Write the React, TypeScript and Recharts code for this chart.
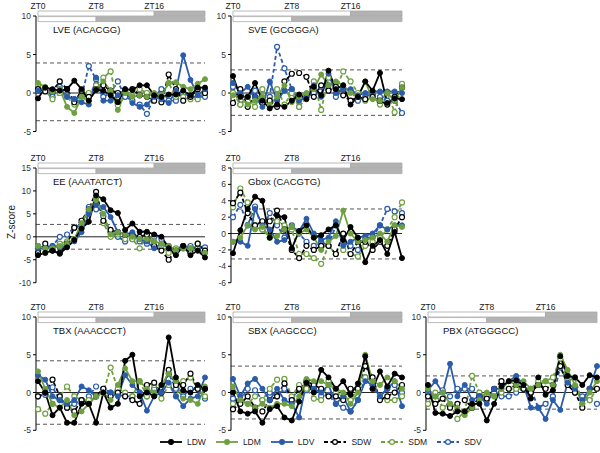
import React from "react"
import { LineChart, Line, XAxis, YAxis, ReferenceLine, ReferenceArea } from "recharts"

// hours ZT0..ZT23
const HOURS = [0, 1, 2, 3, 4, 5, 6, 7, 8, 9, 10, 11, 12, 13, 14, 15, 16, 17, 18, 19, 20, 21, 22, 23]
const ZT_TICKS = [0, 8, 16]

// light / dark schedule bars (long day on top, short day below)
const LONG_DAY = [
  { from: 0, to: 16, dark: false },
  { from: 16, to: 23, dark: true },
]
const SHORT_DAY = [
  { from: 0, to: 8, dark: false },
  { from: 8, to: 23, dark: true },
]

// LVE (ACACGG)
const LVE_LDW = [-0.7, 0.7, 0.5, 0.3, 0.5, 1.6, 0.5, -1.0, 0.4, 0.3, -0.3, -1.2, 0.5, 0.4, 1.0, 1.0, -0.3, -0.5, -0.2, -0.2, 0.3, -0.3, 0.7, 0.7]
const LVE_LDM = [1.3, 0.8, 0.2, 0.5, -1.8, -2.6, -0.5, -1.0, 0.5, 1.5, 0.3, -2.2, 0.0, -0.5, -0.3, -0.5, 0.0, -0.3, 1.3, 1.4, 0.8, 0.5, 1.2, 1.8]
const LVE_LDV = [0.3, 0.7, 0.2, 0.5, -0.5, -0.8, -1.2, -1.5, 2.0, -1.0, -1.0, -0.3, 0.5, -1.3, -1.8, -1.5, -0.5, -0.8, -1.3, 0.3, 4.9, 1.7, -0.3, 0.5]
const LVE_SDW = [0.5, 0.2, 0.3, 1.5, 0.5, -1.2, 0.3, -0.5, 0.5, 1.0, 0.3, 0.0, 0.3, 0.5, -0.3, -0.5, -1.0, -1.2, 2.4, 0.5, -1.0, -0.5, 0.5, 0.0]
const LVE_SDM = [1.0, 0.3, -0.8, 0.0, -0.5, -1.5, -0.8, 0.0, 1.0, 2.0, 2.8, -1.6, 0.3, -0.3, 0.5, 0.0, -0.5, -0.5, 1.3, -0.5, -0.5, -0.8, -0.8, 0.2]
const LVE_SDV = [0.3, 0.5, -0.5, 0.8, -0.3, -0.8, -0.5, 3.5, 1.8, -0.5, 0.0, 1.5, -0.5, -1.0, -1.5, -2.7, -0.5, 0.5, -1.0, -1.0, 0.0, -0.5, -0.5, -0.5]

// SVE (GCGGGA)
const SVE_LDW = [2.2, -0.5, -0.5, 1.3, -1.0, -2.0, -1.5, -1.8, -1.0, -0.2, -0.8, 0.8, -0.3, 2.9, 0.5, 1.0, -1.5, -0.5, 1.5, 0.3, 2.6, -1.3, -0.7, -0.8]
const SVE_LDM = [-0.3, -0.5, -1.5, -1.0, -0.5, -1.5, -0.5, 1.0, -1.2, -0.5, 0.0, 0.5, 2.4, 1.0, 1.5, 1.0, 0.0, -0.5, 1.5, -0.8, -1.0, 0.0, -1.0, 0.7]
const SVE_LDV = [1.3, 0.0, 0.8, -0.5, -1.8, 1.5, -1.0, 0.3, 0.5, -1.0, -0.5, 1.0, -0.5, 2.5, 0.0, 0.5, 0.5, -0.3, 0.0, 0.2, 0.2, 0.2, 0.2, 0.0]
const SVE_SDW = [-1.3, 0.5, -1.8, -0.5, -1.3, -1.0, -1.8, 1.5, 2.5, 2.6, 2.1, -0.5, 1.0, 0.3, 0.8, -0.3, -1.0, -0.5, -0.8, -0.5, -1.0, -1.5, -0.5, 0.7]
const SVE_SDM = [0.0, -1.5, -0.5, -1.8, 0.5, -1.0, 0.5, -1.5, 0.0, -1.8, -0.5, 1.5, -2.2, 2.0, 0.5, 2.8, 1.5, 0.0, -1.0, -0.5, -1.5, 0.0, -2.5, 1.2]
const SVE_SDV = [0.8, -1.5, -0.5, 0.3, -1.0, -0.5, 6.0, 3.2, 0.5, -1.8, -0.5, 0.0, 0.8, 1.0, -0.5, 0.5, 0.3, -1.0, -0.5, 0.0, -0.5, -1.0, -1.0, -2.6]

// EE (AAATATCT)
const EE_LDW = [-4.0, -3.5, -3.0, -3.7, -2.3, -0.7, 1.8, 3.3, 9.0, 8.2, 5.8, 5.2, 1.5, 2.9, 1.1, 1.1, 0.5, 0.0, -2.5, -4.0, -2.0, -4.0, -3.0, -4.5]
const EE_LDM = [-2.0, -2.5, -2.5, -2.0, -1.5, -0.5, 3.0, 6.0, 8.0, 5.0, 0.5, 1.0, 0.5, 0.0, -0.5, -0.5, -1.0, -1.5, -2.0, -3.0, -2.5, -2.5, -3.0, -3.5]
const EE_LDV = [-2.5, -2.5, -2.0, -2.3, -2.0, -1.0, 1.0, 5.0, 7.0, 6.5, 4.3, 1.0, 0.5, 1.0, -0.5, -1.0, -2.5, -1.5, -2.5, -3.0, -2.0, -2.5, -3.0, -3.5]
const EE_SDW = [-3.5, -1.5, -3.0, -3.5, -1.5, 2.0, 3.5, 6.0, 9.8, 3.5, 1.5, 1.0, 0.5, 0.5, 0.0, 0.5, -2.0, -3.0, -5.0, -3.0, -2.0, -3.5, -1.5, -3.0]
const EE_SDM = [-2.5, -3.5, -2.5, -1.5, -1.0, -0.5, 2.0, 5.5, 8.5, 3.0, 0.0, 0.5, -0.5, -0.5, -2.5, 0.5, -1.0, -2.0, -3.5, -2.5, -2.0, -3.5, -1.5, -3.0]
const EE_SDV = [-2.0, -2.5, -2.0, 0.0, 0.5, 2.0, 2.5, 6.5, 6.0, 4.5, 1.0, 0.0, -1.0, -0.5, -1.0, -1.5, 0.0, -0.5, -2.0, -3.0, -2.5, -2.0, -2.5, -2.3]

// Gbox (CACGTG)
const GBOX_LDW = [-2.4, 0.4, 3.0, 4.5, 4.0, -0.5, 2.2, 2.0, -1.8, 0.3, 1.0, -0.5, -0.2, 0.5, 1.0, -0.8, 0.8, -0.5, -3.5, -1.5, -0.8, -2.5, 0.2, -3.0]
const GBOX_LDM = [-1.0, -0.5, 1.0, 0.5, 0.8, -0.5, -0.3, 0.5, 0.8, 0.0, 0.5, -0.5, -2.0, -1.0, -0.3, 2.8, 0.0, -1.0, -0.8, -0.5, 0.0, -1.0, 1.0, 0.8]
const GBOX_LDV = [-1.0, -1.0, -1.5, 3.0, 1.0, 0.5, -1.0, -0.8, 0.8, 0.3, 1.8, 0.0, -0.8, -0.5, 1.5, -1.5, -1.0, -0.5, -0.3, 0.0, 1.0, 0.5, 1.0, 1.0]
const GBOX_SDW = [3.7, 5.0, 2.5, 1.0, 1.5, 1.5, 2.8, 0.5, -2.0, -3.0, -1.5, -2.0, -1.5, -1.5, -2.5, 0.0, -2.5, -1.0, -1.0, -2.0, -1.0, -1.5, 0.5, 2.0]
const GBOX_SDM = [3.2, 5.5, 3.8, 1.0, 0.5, -0.5, 1.5, 1.0, 0.5, -2.5, -2.5, -3.0, -3.7, -1.5, -2.5, -2.0, -2.5, -2.8, -1.5, -1.0, -0.5, 0.5, 2.0, 3.8]
const GBOX_SDV = [2.0, 3.5, 1.0, 3.3, 0.5, 2.5, 1.0, -0.5, 1.0, 0.0, -1.0, -1.5, -1.0, -1.5, 1.0, -1.0, -1.5, -2.0, -0.5, -0.5, 1.0, 3.0, 2.7, 2.5]

// TBX (AAACCCT)
const TBX_LDW = [1.5, 0.0, -3.0, -2.0, -4.0, -4.0, -1.5, -1.5, -4.0, 0.0, -2.0, -1.5, 4.2, 5.0, -0.5, 0.0, -0.5, 1.0, 7.3, 2.0, 0.3, 0.0, 1.0, 0.5]
const TBX_LDM = [2.8, 0.5, -1.5, -2.0, -1.0, -3.0, -2.5, -1.5, -0.5, 0.0, -1.0, 1.0, 3.2, 1.5, 1.5, 0.5, 0.0, 1.0, 2.5, 1.5, -0.8, -1.0, -1.5, 0.8]
const TBX_LDV = [2.3, 1.7, -0.5, -1.0, -1.5, -1.0, 0.8, 0.3, -0.5, 0.0, 0.0, -0.5, 2.3, 1.0, 0.0, -2.4, -0.5, 0.0, 1.3, -0.5, -1.8, -0.8, -0.5, 2.0]
const TBX_SDW = [-0.5, 0.0, 1.7, -0.5, -2.0, -2.5, -1.0, -1.5, -0.5, 0.5, -0.5, 0.0, -0.5, -1.0, -1.5, 1.0, 1.3, 0.0, 3.0, 1.0, 1.0, 2.5, 0.5, 0.5]
const TBX_SDM = [-2.2, -2.8, -1.5, -0.5, 0.8, -0.5, -1.0, -1.0, -0.5, 0.0, 3.3, 0.5, 0.0, -0.5, 1.5, -0.5, 1.0, -0.8, 1.0, -0.5, 1.5, 2.0, 0.5, -0.5]
const TBX_SDV = [-0.5, -0.3, 0.7, -1.0, -2.0, -1.5, -1.0, -0.5, 0.8, 0.5, 0.0, -0.3, -0.5, -0.5, 0.0, -0.5, 0.5, 0.0, 2.5, 0.5, -0.5, 0.5, 0.5, -0.8]

// SBX (AAGCCC)
const SBX_LDW = [0.0, -2.5, -2.8, -2.5, -4.0, -2.2, -1.8, -3.3, -3.7, -1.2, 1.3, 0.0, 3.0, 2.0, 0.5, 1.5, -0.3, 1.2, 4.8, 0.5, 2.8, 0.8, 2.5, 2.0]
const SBX_LDM = [0.8, -1.0, -1.5, -2.0, -1.5, -2.0, -1.5, -1.5, -1.8, -0.5, 1.8, 1.5, 1.5, 1.0, 0.5, 0.0, -1.5, 0.0, 5.0, 1.5, 1.0, 2.0, 1.5, 0.5]
const SBX_LDV = [1.8, -0.5, 1.2, 1.8, 0.5, -1.0, 0.5, -1.0, -1.5, -3.3, 1.3, 0.5, 0.0, 1.0, -1.5, -0.5, -2.5, -1.0, 1.5, 1.0, -0.5, 0.5, 1.5, -1.8]
const SBX_SDW = [-2.2, -1.5, -0.5, -2.0, -2.5, -1.0, -0.5, 1.2, -1.0, 0.5, 1.5, 1.0, 0.5, -0.5, -0.5, -1.0, 0.5, 0.5, 3.5, 2.0, -1.0, -0.5, 0.0, 1.0]
const SBX_SDM = [-1.5, -1.0, -1.5, -0.5, -1.0, 0.5, 1.7, 1.8, -0.5, 1.0, 0.5, -0.8, -1.0, 1.5, 0.0, -0.5, -1.0, 0.5, 2.0, 1.5, -0.5, -1.0, -1.0, -0.5]
const SBX_SDV = [-0.8, -1.0, 0.5, 0.3, -1.0, 0.0, -0.5, 0.5, -0.8, 0.5, 0.3, 0.5, -0.5, -0.3, -1.5, -2.0, -2.5, -1.0, 2.0, 0.5, -0.5, 0.5, 1.0, 0.0]

// PBX (ATGGGCC)
const PBX_LDW = [1.0, -2.7, -2.8, -3.1, -2.5, -2.5, -1.5, -1.5, -3.7, -1.5, 0.8, 1.5, 1.6, 1.0, -0.8, 2.0, -0.3, 0.3, 4.8, 2.2, 2.0, 1.0, 2.3, 2.0]
const PBX_LDM = [0.5, -0.5, 0.0, -1.5, -2.0, -3.0, -2.0, -1.0, 0.0, -0.5, 0.5, 1.5, 1.0, 1.5, 0.5, 1.0, 1.5, 1.0, 5.0, 3.0, 1.0, -1.5, 0.0, 1.5]
const PBX_LDV = [0.3, 1.5, 0.0, 3.8, -0.5, 1.0, -1.0, -0.5, -1.5, 0.5, 0.5, 1.5, 2.2, 1.0, -2.0, -2.0, -3.5, -1.0, -2.3, 1.3, 0.5, -1.0, 0.5, 3.5]
const PBX_SDW = [-0.5, -1.5, -0.8, -2.0, -1.5, -1.0, -2.0, -0.5, -0.8, 0.5, 1.5, 0.5, 1.0, 0.5, 0.0, 1.0, 0.5, 1.0, 3.5, 1.0, 0.0, -2.0, 0.5, 0.5]
const PBX_SDM = [-1.5, 0.0, -2.0, -1.5, -3.5, -2.5, 2.2, 0.0, -0.5, -0.5, 0.0, 0.5, 0.5, 0.5, 0.5, 1.5, 1.5, 2.0, 4.5, 1.5, 2.0, -1.5, -1.0, 0.5]
const PBX_SDV = [0.0, -0.5, 0.3, -0.5, 0.5, 0.5, 0.5, -0.5, -1.0, 0.0, -0.5, -0.5, 0.0, 0.5, 0.5, -2.0, -1.5, -0.5, 3.3, 1.5, 0.0, -0.5, -1.0, -1.5]

const BLACK = "#000000"
const GREEN = "#6fa040"
const BLUE = "#2a5caa"

const SERIES = [
  { key: "LDW", color: BLACK, dashed: false },
  { key: "LDM", color: GREEN, dashed: false },
  { key: "LDV", color: BLUE, dashed: false },
  { key: "SDW", color: BLACK, dashed: true },
  { key: "SDM", color: GREEN, dashed: true },
  { key: "SDV", color: BLUE, dashed: true },
]

// layout of the 3x3 grid (only 7 panels used)
const COLS = [
  { axis: 36, right: 205 },
  { axis: 231, right: 402 },
  { axis: 426, right: 597 },
]
const ROWS = [
  { top: 16, bottom: 131.5 },
  { top: 168, bottom: 282.7 },
  { top: 316.7, bottom: 430 },
]
const Y_W = 30
const X_H = 16 // room for the ZT labels above each plot
const M_T = 8
const M_R = 4
const M_B = 4

const PANELS = [
  { title: "LVE (ACACGG)", col: 0, row: 0, domain: [-5, 10], ticks: [-5, 0, 5, 10], thr: [-3.6, 3.9],
    values: { LDW: LVE_LDW, LDM: LVE_LDM, LDV: LVE_LDV, SDW: LVE_SDW, SDM: LVE_SDM, SDV: LVE_SDV } },
  { title: "SVE (GCGGGA)", col: 1, row: 0, domain: [-5, 10], ticks: [-5, 0, 5, 10], thr: [-2.9, 3.0],
    values: { LDW: SVE_LDW, LDM: SVE_LDM, LDV: SVE_LDV, SDW: SVE_SDW, SDM: SVE_SDM, SDV: SVE_SDV } },
  { title: "EE (AAATATCT)", col: 0, row: 1, domain: [-10, 15], ticks: [-10, -5, 0, 5, 10, 15], thr: [-2.7, 2.7],
    values: { LDW: EE_LDW, LDM: EE_LDM, LDV: EE_LDV, SDW: EE_SDW, SDM: EE_SDM, SDV: EE_SDV } },
  { title: "Gbox (CACGTG)", col: 1, row: 1, domain: [-6, 8], ticks: [-6, -4, -2, 0, 2, 4, 6, 8], thr: [-3.1, 3.0],
    values: { LDW: GBOX_LDW, LDM: GBOX_LDM, LDV: GBOX_LDV, SDW: GBOX_SDW, SDM: GBOX_SDM, SDV: GBOX_SDV } },
  { title: "TBX (AAACCCT)", col: 0, row: 2, domain: [-5, 10], ticks: [-5, 0, 5, 10], thr: [-4.2, 4.2],
    values: { LDW: TBX_LDW, LDM: TBX_LDM, LDV: TBX_LDV, SDW: TBX_SDW, SDM: TBX_SDM, SDV: TBX_SDV } },
  { title: "SBX (AAGCCC)", col: 1, row: 2, domain: [-5, 10], ticks: [-5, 0, 5, 10], thr: [-3.5, 3.5],
    values: { LDW: SBX_LDW, LDM: SBX_LDM, LDV: SBX_LDV, SDW: SBX_SDW, SDM: SBX_SDM, SDV: SBX_SDV } },
  { title: "PBX (ATGGGCC)", col: 2, row: 2, domain: [-5, 10], ticks: [-5, 0, 5, 10], thr: [-2.2, 2.2],
    values: { LDW: PBX_LDW, LDM: PBX_LDM, LDV: PBX_LDV, SDW: PBX_SDW, SDM: PBX_SDM, SDV: PBX_SDV } },
]

function Panel({ panel }: { panel: any }) {
  const col = COLS[panel.col]
  const row = ROWS[panel.row]
  const plotW = col.right - col.axis
  const plotH = row.bottom - row.top
  const [min, max] = panel.domain
  const ppu = plotH / (max - min)
  const data = HOURS.map((h, i) => {
    const d: any = { h }
    SERIES.forEach((s) => (d[s.key] = panel.values[s.key][i]))
    return d
  })

  return (
    <>
      <div style={{ position: "absolute", left: col.axis - Y_W, top: row.top - M_T - X_H }}>
        <LineChart
          width={Y_W + plotW + M_R}
          height={M_T + X_H + plotH + M_B}
          data={data}
          margin={{ top: M_T, right: M_R, bottom: M_B, left: 0 }}
        >
          <XAxis
            dataKey="h"
            type="number"
            orientation="top"
            domain={[0, 23]}
            ticks={ZT_TICKS}
            tickFormatter={(v) => `ZT${v}`}
            height={X_H}
            axisLine={false}
            tickLine={false}
            tickSize={0}
            tickMargin={7}
            padding={{ left: 2, right: 0 }}
            interval={0}
            tick={{ fontSize: 8.5, fill: "#222" }}
          />
          <YAxis
            type="number"
            domain={panel.domain}
            ticks={panel.ticks}
            interval={0}
            width={Y_W}
            tickSize={3}
            tickMargin={2}
            axisLine={{ stroke: "#000" }}
            tickLine={{ stroke: "#000" }}
            tick={{ fontSize: 8.5, fill: "#333" }}
          />
          {LONG_DAY.map((b) => (
            <ReferenceArea
              key={`l${b.from}`}
              x1={b.from}
              x2={b.to}
              y1={max}
              y2={max + 5 / ppu}
              fill={b.dark ? "#b3b3b3" : "#ffffff"}
              fillOpacity={1}
              stroke="#a8a8a8"
              strokeWidth={0.8}
              ifOverflow="visible"
            />
          ))}
          {SHORT_DAY.map((b) => (
            <ReferenceArea
              key={`s${b.from}`}
              x1={b.from}
              x2={b.to}
              y1={max - 0.6 / ppu}
              y2={max - 5.6 / ppu}
              fill={b.dark ? "#b3b3b3" : "#ffffff"}
              fillOpacity={1}
              stroke="#a8a8a8"
              strokeWidth={0.8}
              ifOverflow="visible"
            />
          ))}
          <ReferenceLine y={0} stroke="#222" strokeWidth={1} />
          {panel.thr.map((t: number) => (
            <ReferenceLine key={t} y={t} stroke="#555" strokeWidth={1} strokeDasharray="4 3" />
          ))}
          {[...SERIES].reverse().map((s) => (
            <Line
              key={s.key}
              type="linear"
              dataKey={s.key}
              stroke={s.color}
              strokeWidth={1.8}
              strokeDasharray={s.dashed ? "4 2.5" : undefined}
              dot={{
                r: 2.5,
                fill: s.dashed ? "#fff" : s.color,
                stroke: s.color,
                strokeWidth: s.dashed ? 1.2 : 1,
                strokeDasharray: "none",
              }}
              activeDot={false}
              isAnimationActive={false}
            />
          ))}
        </LineChart>
      </div>
      <div
        style={{
          position: "absolute",
          left: col.axis + 17,
          top: row.top + 8,
          fontSize: 9.5,
          lineHeight: "12px",
          color: "#111",
          whiteSpace: "nowrap",
        }}
      >
        {panel.title}
      </div>
    </>
  )
}

function LegendRow() {
  return (
    <div style={{ position: "absolute", left: 160, top: 437, display: "flex", alignItems: "center" }}>
      {SERIES.map((s) => (
        <div key={s.key} style={{ display: "flex", alignItems: "center", marginRight: 10 }}>
          <svg width={22} height={10}>
            <line
              x1={0}
              y1={5}
              x2={22}
              y2={5}
              stroke={s.color}
              strokeWidth={1.8}
              strokeDasharray={s.dashed ? "4 2.5" : undefined}
            />
            <circle cx={11} cy={5} r={2.4} fill={s.dashed ? "#fff" : s.color} stroke={s.color} strokeWidth={1.2} />
          </svg>
          <span style={{ marginLeft: 5, fontSize: 8.5, color: "#222" }}>{s.key}</span>
        </div>
      ))}
    </div>
  )
}

export default function App() {
  return (
    <div
      style={{
        position: "absolute",
        left: 0,
        top: 0,
        width: 600,
        height: 453,
        background: "#fff",
        fontFamily: '"Liberation Sans", Arial, sans-serif',
        overflow: "hidden",
      }}
    >
      {PANELS.map((p) => (
        <Panel key={p.title} panel={p} />
      ))}
      <div
        style={{
          position: "absolute",
          left: 11,
          top: 222,
          transform: "translate(-50%, -50%) rotate(-90deg)",
          fontSize: 10,
          color: "#222",
          whiteSpace: "nowrap",
        }}
      >
        Z-score
      </div>
      <LegendRow />
    </div>
  )
}
